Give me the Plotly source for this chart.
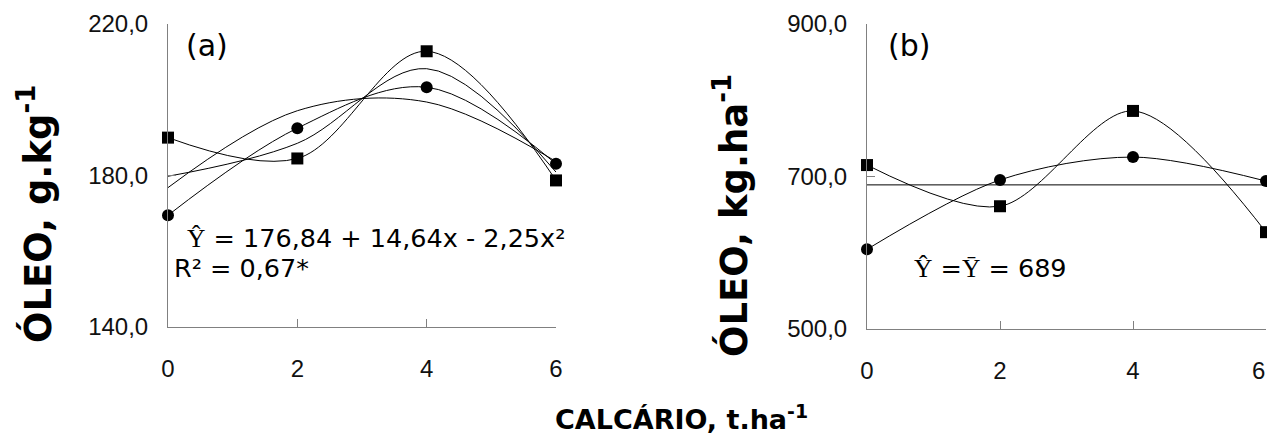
import plotly.graph_objects as go

# page has an 8px body margin and the visible area ends near x=1267
OFF = 8
W, H = 1275 - 2 * OFF, 446 - 2 * OFF

# ---- data ----
doses = [0, 2, 4, 6]
a_square = [190.0, 184.5, 212.8, 178.7]
a_circle = [169.5, 192.5, 203.3, 183.1]
a_mean = [179.8, 188.5, 208.2, 180.9]
a_fit = [176.8, 197.1, 199.4, 183.7]
b_square = [715.0, 661.0, 786.0, 627.0]
b_circle = [604.5, 695.5, 725.5, 694.0]
b_mean = [689, 689, 689, 689]
a_ticks = [140, 180, 220]
a_ticklabels = ["140,0", "180,0", "220,0"]
b_ticks = [500, 700, 900]
b_ticklabels = ["500,0", "700,0", "900,0"]
x_ticks = [0, 2, 4, 6]
x_ticklabels = ["0", "2", "4", "6"]

def px(v):
    return (v - OFF) / W

def py(v):
    return 1 - (v - OFF) / H

fig = go.Figure()

def add(x, y, xa, ya, symbol=None, size=12, smoothing=1):
    ln = dict(color="black", width=1, shape="spline", smoothing=smoothing)
    if symbol:
        fig.add_trace(go.Scatter(x=x, y=y, xaxis=xa, yaxis=ya, mode="lines+markers",
                                 line=ln, marker=dict(symbol=symbol, size=size, color="black"),
                                 showlegend=False, cliponaxis=False))
    else:
        fig.add_trace(go.Scatter(x=x, y=y, xaxis=xa, yaxis=ya, mode="lines",
                                 line=ln, showlegend=False, cliponaxis=False))

add(doses, a_fit, "x", "y")
add(doses, a_mean, "x", "y")
add(doses, a_square, "x", "y", "square", 12)
add(doses, a_circle, "x", "y", "circle", 12)

fig.add_trace(go.Scatter(x=doses, y=b_mean, xaxis="x2", yaxis="y2", mode="lines",
                         line=dict(color="black", width=1), showlegend=False))
add(doses, b_square, "x2", "y2", "square", 12, 0.9)
add(doses, b_circle, "x2", "y2", "circle", 12, 0.9)

tickfont = dict(family="Liberation Sans, Arial", size=24, color="#111")
axcommon = dict(showline=True, linecolor="#808080", linewidth=1, ticks="inside",
                ticklen=8, tickcolor="#808080", showgrid=False, zeroline=False,
                tickfont=tickfont, fixedrange=True, automargin=False)

# last x tick label of panel (b) is drawn as an annotation so it stays in view
b_xticklabels = x_ticklabels[:-1] + [""]

ytop = 24
fig.update_layout(
    width=W, height=H, autosize=False,
    margin=dict(l=0, r=0, t=0, b=0, pad=0),
    plot_bgcolor="white", paper_bgcolor="white",
    xaxis=dict(domain=[px(168), px(556)], range=[0, 6], tickvals=x_ticks,
               ticktext=x_ticklabels, anchor="y", ticklabelstandoff=20, **axcommon),
    yaxis=dict(domain=[py(327), py(ytop)], range=[140, 220], tickvals=a_ticks,
               ticktext=a_ticklabels, anchor="x", ticklabelstandoff=14, **axcommon),
    xaxis2=dict(domain=[px(867), px(1266)], range=[0, 6], tickvals=x_ticks,
                ticktext=b_xticklabels, anchor="y2", ticklabelstandoff=20, **axcommon),
    yaxis2=dict(domain=[py(329), py(ytop)], range=[500, 900], tickvals=b_ticks,
                ticktext=b_ticklabels, anchor="x2", ticklabelstandoff=14, **axcommon),
)

vfont = "DejaVu Sans, Verdana"
def serif(t):
    return "<span style='font-family:Liberation Serif, Times New Roman'>" + t + "</span>"

ann = []
ann.append(dict(text=x_ticklabels[-1], x=1, y=py(370), xref="paper", yref="paper",
                xanchor="right", yanchor="middle", showarrow=False,
                font=tickfont))
ann.append(dict(text="(a)", x=px(184), y=py(45), xref="paper", yref="paper",
                xanchor="left", yanchor="middle", showarrow=False,
                font=dict(family=vfont, size=30, color="black")))
ann.append(dict(text="(b)", x=px(886), y=py(45), xref="paper", yref="paper",
                xanchor="left", yanchor="middle", showarrow=False,
                font=dict(family=vfont, size=30, color="black")))
ann.append(dict(text=serif("Ŷ") + " = 176,84 + 14,64x - 2,25x²",
                x=px(185), y=py(238), xref="paper", yref="paper",
                xanchor="left", yanchor="middle", showarrow=False,
                font=dict(family=vfont, size=25.5, color="black")))
ann.append(dict(text="R² = 0,67*", x=px(172), y=py(268), xref="paper", yref="paper",
                xanchor="left", yanchor="middle", showarrow=False,
                font=dict(family=vfont, size=25.5, color="black")))
ann.append(dict(text=serif("Ŷ") + " =" + serif("Ȳ") + " = 689",
                x=px(912), y=py(268), xref="paper", yref="paper",
                xanchor="left", yanchor="middle", showarrow=False,
                font=dict(family=vfont, size=25.5, color="black")))
ann.append(dict(text="ÓLEO, g.kg<sup>-1</sup>", x=px(35), y=py(214), xref="paper", yref="paper",
                xanchor="center", yanchor="middle", textangle=-90, showarrow=False,
                font=dict(family="DejaVu Sans, Verdana", size=37, color="black", weight="bold")))
ann.append(dict(text="ÓLEO, kg.ha<sup>-1</sup>", x=px(731), y=py(216), xref="paper", yref="paper",
                xanchor="center", yanchor="middle", textangle=-90, showarrow=False,
                font=dict(family="DejaVu Sans, Verdana", size=37, color="black", weight="bold")))
ann.append(dict(text="CALCÁRIO, t.ha<sup>-1</sup>", x=px(681), y=py(417), xref="paper", yref="paper",
                xanchor="center", yanchor="middle", showarrow=False,
                font=dict(family=vfont, size=27, color="black", weight="bold")))
fig.update_layout(annotations=ann)

fig.write_html("out.html")
